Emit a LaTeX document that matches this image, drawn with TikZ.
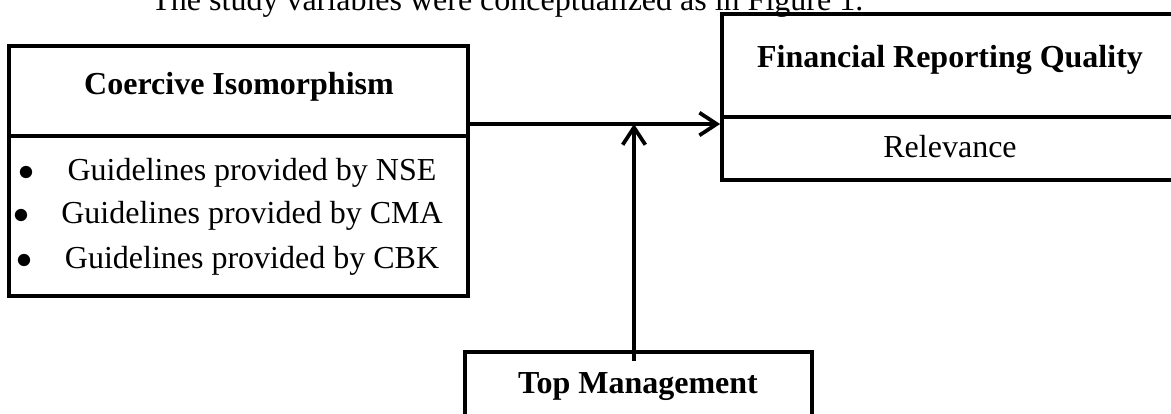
\documentclass[tikz,border=0pt]{standalone}
\usepackage{fontspec}
\setmainfont{Liberation Serif}
\usetikzlibrary{arrows.meta, positioning, fit}

\begin{document}
\begin{tikzpicture}[x=0.375pt, y=-0.375pt,
  font=\fontsize{12pt}{14pt}\selectfont,
  box/.style={rectangle, draw, line width=1.4pt, inner sep=0pt},
  conn/.style={line width=1.4pt, arrows={-Straight Barb[length=6.5pt, width=8.5pt]}}]
  \useasboundingbox (0,0) rectangle (1171,413);
  \node[anchor=base west] (intro) at (142,10) {The study variables were conceptualized as in Figure 1.};
  % coercive isomorphism
  \node[box, fit={(9,46) (468,136)}] (ci) {};
  \node[box, fit={(9,136) (468,296)}] (cilist) {};
  \node[anchor=base] (cititle) at (239,94) {\textbf{Coercive Isomorphism}};
  \node[anchor=base] (nse) at (252,180) {Guidelines provided by NSE};
  \node[anchor=base] (cma) at (252,223) {Guidelines provided by CMA};
  \node[anchor=base] (cbk) at (252,268) {Guidelines provided by CBK};
  \node[anchor=base] (bnse) at (26,180) {$\bullet$};
  \node[anchor=base] (bcma) at (21,223) {$\bullet$};
  \node[anchor=base] (bcbk) at (24,268) {$\bullet$};
  % financial reporting quality
  \node[box, fit={(722,14) (1185,117)}] (frq) {};
  \node[box, fit={(722,117) (1185,180)}] (frqbody) {};
  \node[anchor=base] (frqtitle) at (950,67) {\textbf{Financial Reporting Quality}};
  \node[anchor=base] (rel) at (950,157) {Relevance};
  % top management
  \node[box, fit={(465,352) (812,440)}] (tm) {};
  \node[anchor=base] (tmtitle) at (638,393) {\textbf{Top Management}};
  % arrows
  \coordinate (meet) at (634,124);
  \draw[conn] (ci.east |- meet) -- (frqbody.west |- meet);
  \draw[conn] (tm.north -| meet) ++(0,11) -- (meet);
\end{tikzpicture}
\end{document}
